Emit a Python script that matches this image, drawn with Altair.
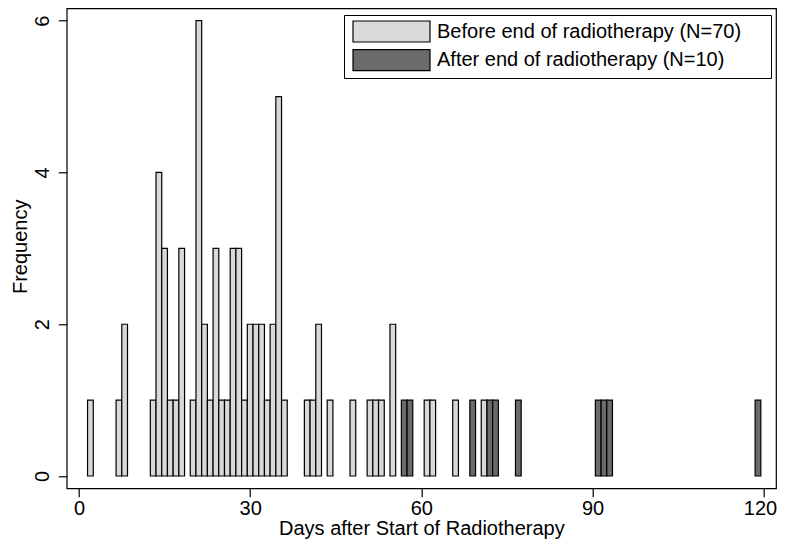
import altair as alt
import pandas as pd

# Histogram counts (one-day bins)
days_before = [2, 7, 8, 13, 14, 15, 16, 17, 18, 20, 21, 22, 23, 24, 25, 26, 27, 28, 29,
               30, 31, 32, 33, 34, 35, 36, 40, 41, 42, 44, 48, 51, 52, 53, 55, 61, 62, 66, 71]
freq_before = [1, 1, 2, 1, 4, 3, 1, 1, 3, 1, 6, 2, 1, 3, 1, 1, 3, 3, 1,
               2, 2, 2, 1, 2, 5, 1, 1, 1, 2, 1, 1, 1, 1, 1, 2, 1, 1, 1, 1]
days_after = [57, 58, 69, 72, 73, 77, 91, 92, 93, 119]
freq_after = [1, 1, 1, 1, 1, 1, 1, 1, 1, 1]

groups = ["Before end of radiotherapy (N=70)", "After end of radiotherapy (N=10)"]
colors = ["#d9d9d9", "#6b6b6b"]
x_ticks = [0, 30, 60, 90, 120]
y_ticks = [0, 2, 4, 6]

rows = []
for d, f in zip(days_before, freq_before):
    rows.append({"lo": d - 0.5, "hi": d + 0.5, "base": 0, "freq": f, "group": groups[0]})
for d, f in zip(days_after, freq_after):
    rows.append({"lo": d - 0.5, "hi": d + 0.5, "base": 0, "freq": f, "group": groups[1]})
df = pd.DataFrame(rows)

FONT = "Liberation Sans"

chart = alt.Chart(df).mark_rect(stroke="black", strokeWidth=1.2).encode(
    x=alt.X("lo:Q",
            scale=alt.Scale(domain=[-2.156, 122.16], nice=False, zero=False),
            axis=alt.Axis(values=x_ticks, title="Days after Start of Radiotherapy",
                          labelBaseline="alphabetic", labelPadding=17.8,
                          labelAlign={"condition": {"test": "datum.value == 120", "value": "right"},
                                      "value": "center"},
                          labelOffset={"condition": {"test": "datum.value == 120", "value": 13},
                                       "value": 0},
                          titleBaseline="alphabetic", titleY=46.5)),
    x2="hi:Q",
    y=alt.Y("freq:Q",
            scale=alt.Scale(domain=[-0.162, 6.163], nice=False, zero=False),
            axis=alt.Axis(values=y_ticks, title="Frequency",
                          labelAngle=270, labelAlign="center", labelBaseline="alphabetic",
                          labelPadding=10,
                          titleAngle=270, titleAlign="center", titleBaseline="alphabetic",
                          titleX=-40, titleY=238)),
    y2="base:Q",
    fill=alt.Fill("group:N",
                  scale=alt.Scale(domain=groups, range=colors),
                  legend=alt.Legend(title=None, orient="none", legendX=277.3, legendY=6.7,
                                    direction="vertical", padding=5,
                                    strokeColor="black", fillColor="white",
                                    symbolType="M-3.667,-1H3.667V1H-3.667Z M35.4,0",
                                    symbolSize=441,
                                    symbolOffset=31,
                                    symbolStrokeColor="black", symbolStrokeWidth=1.2,
                                    symbolOpacity=1,
                                    labelFont=FONT, labelFontSize=20, labelColor="black",
                                    labelOffset=34, labelLimit=600, rowPadding=1.6)),
).properties(
    width=709.3, height=480,
    autosize="none",
    padding={"left": 58.7, "top": 0.3, "right": 1, "bottom": 51.7},
).configure_view(
    stroke="black", strokeWidth=1.2
).configure_axis(
    domain=False, grid=False,
    tickColor="black", tickSize=8.4, tickWidth=1.2,
    labelFont=FONT, labelFontSize=20, labelColor="black",
    titleFont=FONT, titleFontSize=20, titleColor="black", titleFontWeight="normal",
)

chart.save("out.html", embed_options={"renderer": "svg", "actions": False})
